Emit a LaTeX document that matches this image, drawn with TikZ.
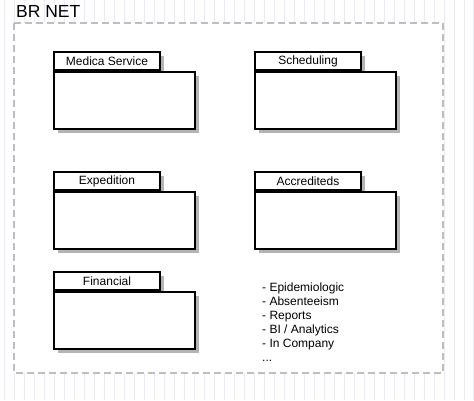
\documentclass[tikz,border=0pt]{standalone}
\usepackage{fontspec}
\setmainfont{Liberation Sans}
\usetikzlibrary{shadows}

\definecolor{gridcol}{RGB}{234,234,250}
\definecolor{framecol}{RGB}{190,190,190}
\definecolor{shadowcol}{RGB}{180,180,180}

\tikzset{
    pkgshadow/.style={drop shadow={shadow xshift=4pt, shadow yshift=-4pt, fill=shadowcol, opacity=1}},
    pkgtab/.style={draw, line width=2pt, fill=white, pkgshadow, anchor=south west,
        minimum width=106pt, minimum height=18pt, inner sep=0pt,
        font=\fontsize{12}{14}\selectfont},
    pkgbody/.style={draw, line width=2pt, fill=white, pkgshadow, anchor=north west,
        minimum width=141pt, minimum height=57pt, inner sep=0pt},
}

% package: name, x, y (top left of body), label
\newcommand{\pkg}[4]{
    \node[pkgtab] (#1tab) at (#2,#3) {#4};
    \node[pkgbody] (#1) at (#2,#3) {};
}

\begin{document}
\begin{tikzpicture}[x=1pt, y=-1pt]
    \useasboundingbox (0,0) rectangle (474,400);
    \fill[white] (0,0) rectangle (474,400);
    \draw[gridcol, line width=1pt, shift={(4,6)}] (-4,-6) grid[step=10] (470,394);

    % frame
    \draw[framecol, fill=white, line width=2pt, dash pattern=on 7pt off 4pt] (14,23) rectangle (443,373);
    \node[anchor=base west, inner sep=0pt, font=\fontsize{17.5}{20}\selectfont] (title) at (16,17.5) {BR NET};

    % packages
    \pkg{medical}{53}{71}{Medica Service}
    \pkg{scheduling}{254}{71}{Scheduling}
    \pkg{expedition}{53}{191}{Expedition}
    \pkg{accrediteds}{254}{191}{Accrediteds}
    \pkg{financial}{53}{291}{Financial}

    % other modules
    \node[anchor=north west, align=left, inner sep=0pt, font=\fontsize{12}{14}\selectfont] (others) at (262,283)
        {- Epidemiologic\\- Absenteeism\\- Reports\\- BI / Analytics\\- In Company\\...};
\end{tikzpicture}
\end{document}
